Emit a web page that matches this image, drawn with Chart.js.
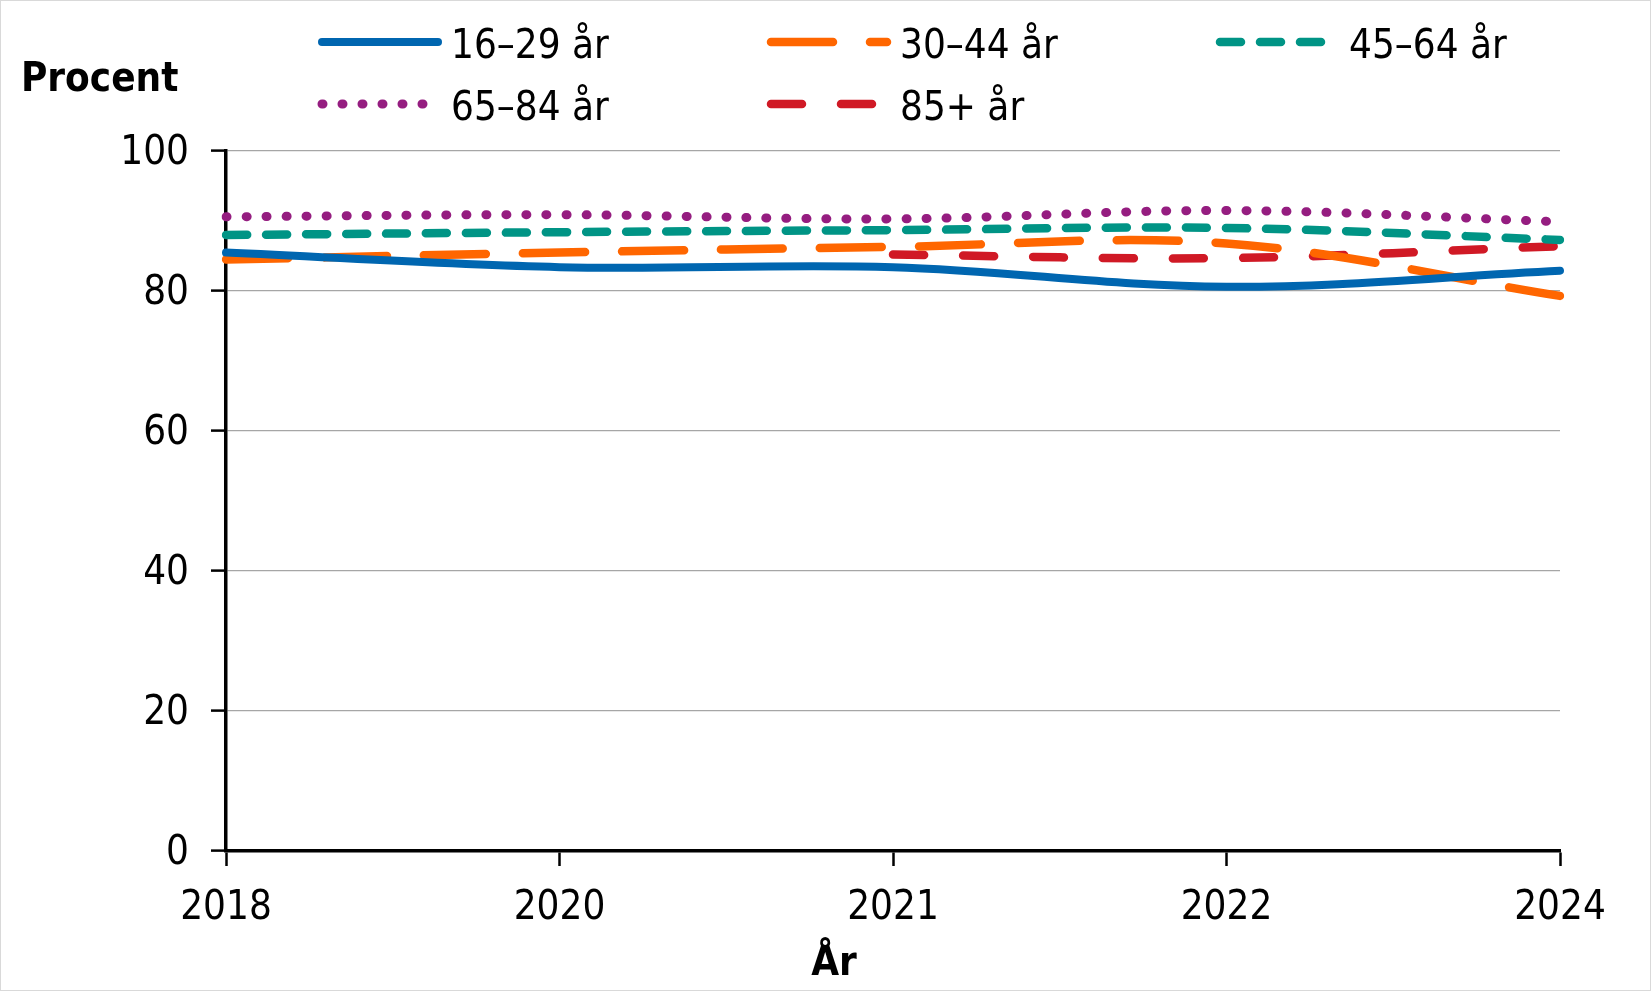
<!DOCTYPE html>
<html>
<head>
<meta charset="utf-8">
<script src="https://cdn.jsdelivr.net/npm/chart.js@4.4.1/dist/chart.umd.min.js"></script>
<style>
  body { margin: 0; background: #fff; }
  canvas { display: block; }
</style>
</head>
<body>
<canvas id="andel" width="1651" height="991"></canvas>
<script>
// data
var years = ['2018', '2020', '2021', '2022', '2024'];
var age16_29 = [85.5, 83.4, 83.4, 80.6, 82.9];
var age30_44 = [84.5, 85.5, 86.3, 86.8, 79.3];
var age45_64 = [88.0, 88.4, 88.7, 89.0, 87.3];
var age65_84 = [90.6, 90.9, 90.3, 91.5, 89.9];
var age85plus = [null, null, 85.2, 84.7, 86.4];
var yTicks = [0, 20, 40, 60, 80, 100];

var FONT = "'DejaVu Sans Condensed', 'DejaVu Sans', Verdana, sans-serif";
Chart.defaults.font.family = FONT;
Chart.defaults.color = '#000';

function serie(label, data, color, dash, width) {
    return {
        label: label,
        data: data,
        borderColor: color,
        backgroundColor: color,
        borderWidth: width,
        borderDash: dash,
        borderCapStyle: 'round',
        borderJoinStyle: 'round',
        pointRadius: 0,
        tension: 0.35,
        fill: false
    };
}

// legend drawn by hand, Excel style columns
var egenLegend = {
    id: 'egenLegend',
    afterDraw: (chart) => {
        var ctx = chart.ctx;
        var cols = [318, 767, 1216];
        var rows = [42, 104];
        ctx.save();
        chart.data.datasets.forEach((ds, i) => {
            var x = cols[i % 3], y = rows[Math.floor(i / 3)];
            ctx.strokeStyle = ds.borderColor;
            ctx.lineWidth = ds.borderWidth;
            ctx.lineCap = 'round';
            ctx.setLineDash(ds.borderDash || []);
            ctx.beginPath();
            ctx.moveTo(x + 4, y);
            ctx.lineTo(x + 120, y);
            ctx.stroke();
            ctx.setLineDash([]);
            ctx.fillStyle = '#000';
            ctx.font = '40px ' + FONT;
            ctx.textBaseline = 'middle';
            ctx.textAlign = 'left';
            ctx.fillText(ds.label, x + 133, y + 6);
        });
        // axis titles
        ctx.font = 'bold 40px ' + FONT;
        ctx.fillText('Procent', 21, 81);
        ctx.textAlign = 'center';
        ctx.fillText('År', 834, 965);
        // frame
        ctx.strokeStyle = '#d9d9d9';
        ctx.lineWidth = 1;
        ctx.strokeRect(0.5, 0.5, chart.width - 1, chart.height - 1);
        ctx.restore();
    }
};

var ctx = document.getElementById('andel');

var myChart = new Chart(ctx, {
    type: 'line',
    data: {
        labels: years,
        datasets: [
            serie('16–29 år', age16_29, '#0066b0', [], 8),
            serie('30–44 år', age30_44, '#ff6600', [62, 37], 8.5),
            serie('45–64 år', age45_64, '#009485', [21, 19], 8.5),
            serie('65–84 år', age65_84, '#951d80', [1, 19], 9),
            serie('85+ år', age85plus, '#d01925', [31, 39], 8.5)
        ]
    },
    options: {
        responsive: false,
        animation: false,
        spanGaps: false,
        layout: { padding: { top: 151, right: 91, bottom: 0, left: 0 } },
        plugins: {
            legend: { display: false },
            tooltip: { enabled: false }
        },
        scales: {
            x: {
                offset: false,
                grid: {
                    drawOnChartArea: false,
                    drawTicks: true,
                    tickLength: 15,
                    tickColor: '#000',
                    tickWidth: 2.5
                },
                border: { color: '#000', width: 3.5 },
                ticks: { font: { size: 40 }, color: '#000', padding: 19, maxRotation: 0 },
                afterFit: (s) => { s.height = 140; }
            },
            y: {
                min: 0,
                max: 100,
                afterBuildTicks: (s) => { s.ticks = yTicks.map(v => ({ value: v })); },
                grid: {
                    color: '#a6a6a6',
                    lineWidth: 1.2,
                    tickLength: 15,
                    tickColor: '#000',
                    tickWidth: 2.5
                },
                border: { color: '#000', width: 3.5 },
                ticks: { font: { size: 40 }, color: '#000', padding: 22, labelOffset: 3 },
                afterFit: (s) => { s.width = 226; }
            }
        }
    },
    plugins: [egenLegend]
});
</script>
</body>
</html>
